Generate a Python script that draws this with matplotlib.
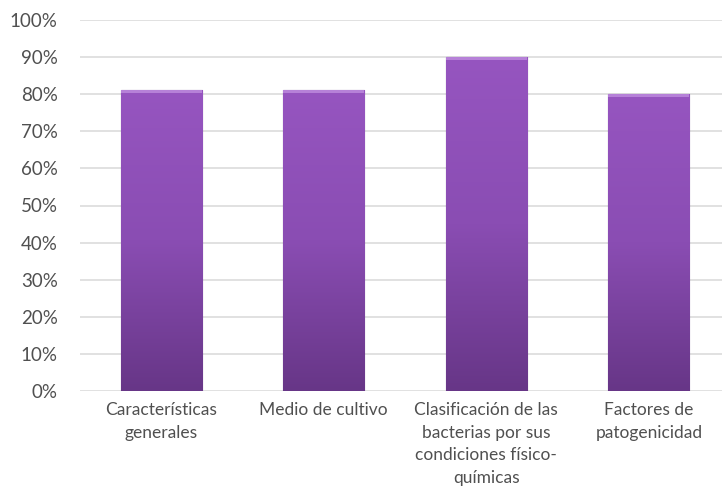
import numpy as np
import matplotlib.pyplot as plt
from matplotlib.colors import LinearSegmentedColormap
from matplotlib.ticker import PercentFormatter

categories = ["Características\ngenerales", "Medio de cultivo",
              "Clasificación de las\nbacterias por sus\ncondiciones físico-\nquímicas",
              "Factores de\npatogenicidad"]
values = [0.81, 0.81, 0.90, 0.80]
y_ticks = [0.0, 0.1, 0.2, 0.3, 0.4, 0.5, 0.6, 0.7, 0.8, 0.9, 1.0]

plt.rcParams['font.family'] = ['Lato', 'DejaVu Sans']

fig = plt.figure(figsize=(7.22, 5.0), dpi=100)
ax = fig.add_axes([80 / 722, 109 / 500, 642 / 722, 371 / 500])

x = np.arange(len(categories))
bars = ax.bar(x, values, width=0.5, color="#8048a8", edgecolor="#4f2a6e",
              linewidth=0.8, zorder=2)

# vertical gradient inside each bar (lighter at the top)
cmap = LinearSegmentedColormap.from_list("purp", ["#673687", "#8a4db3", "#9655c0"])
grad = np.linspace(0, 1, 256).reshape(-1, 1)
for b in bars:
    x0, w, h = b.get_x(), b.get_width(), b.get_height()
    im = ax.imshow(grad, extent=[x0, x0 + w, 0, h], origin="lower", aspect="auto",
                   cmap=cmap, zorder=2.5)
    im.set_clip_path(b)
    # light highlight along the top edge
    ax.fill_between([x0, x0 + w], h - 0.008, h, color="#b681d8", zorder=3, linewidth=0)

ax.set_xlim(-0.5, 3.45)
ax.set_ylim(0, 1.0)
ax.set_yticks(y_ticks)
ax.yaxis.set_major_formatter(PercentFormatter(1.0, decimals=0))
ax.set_xticks(x)
ax.set_xticklabels(categories, linespacing=1.5)

ax.grid(axis="y", color="#d9d9d9", linewidth=1.1, zorder=0)
ax.set_axisbelow(True)
for s in ax.spines.values():
    s.set_visible(False)
ax.tick_params(axis="both", length=0, colors="#505050")
ax.tick_params(axis="y", pad=16, labelsize=13.5)
ax.tick_params(axis="x", pad=8, labelsize=12.5)

plt.savefig("out.png", dpi=100)
